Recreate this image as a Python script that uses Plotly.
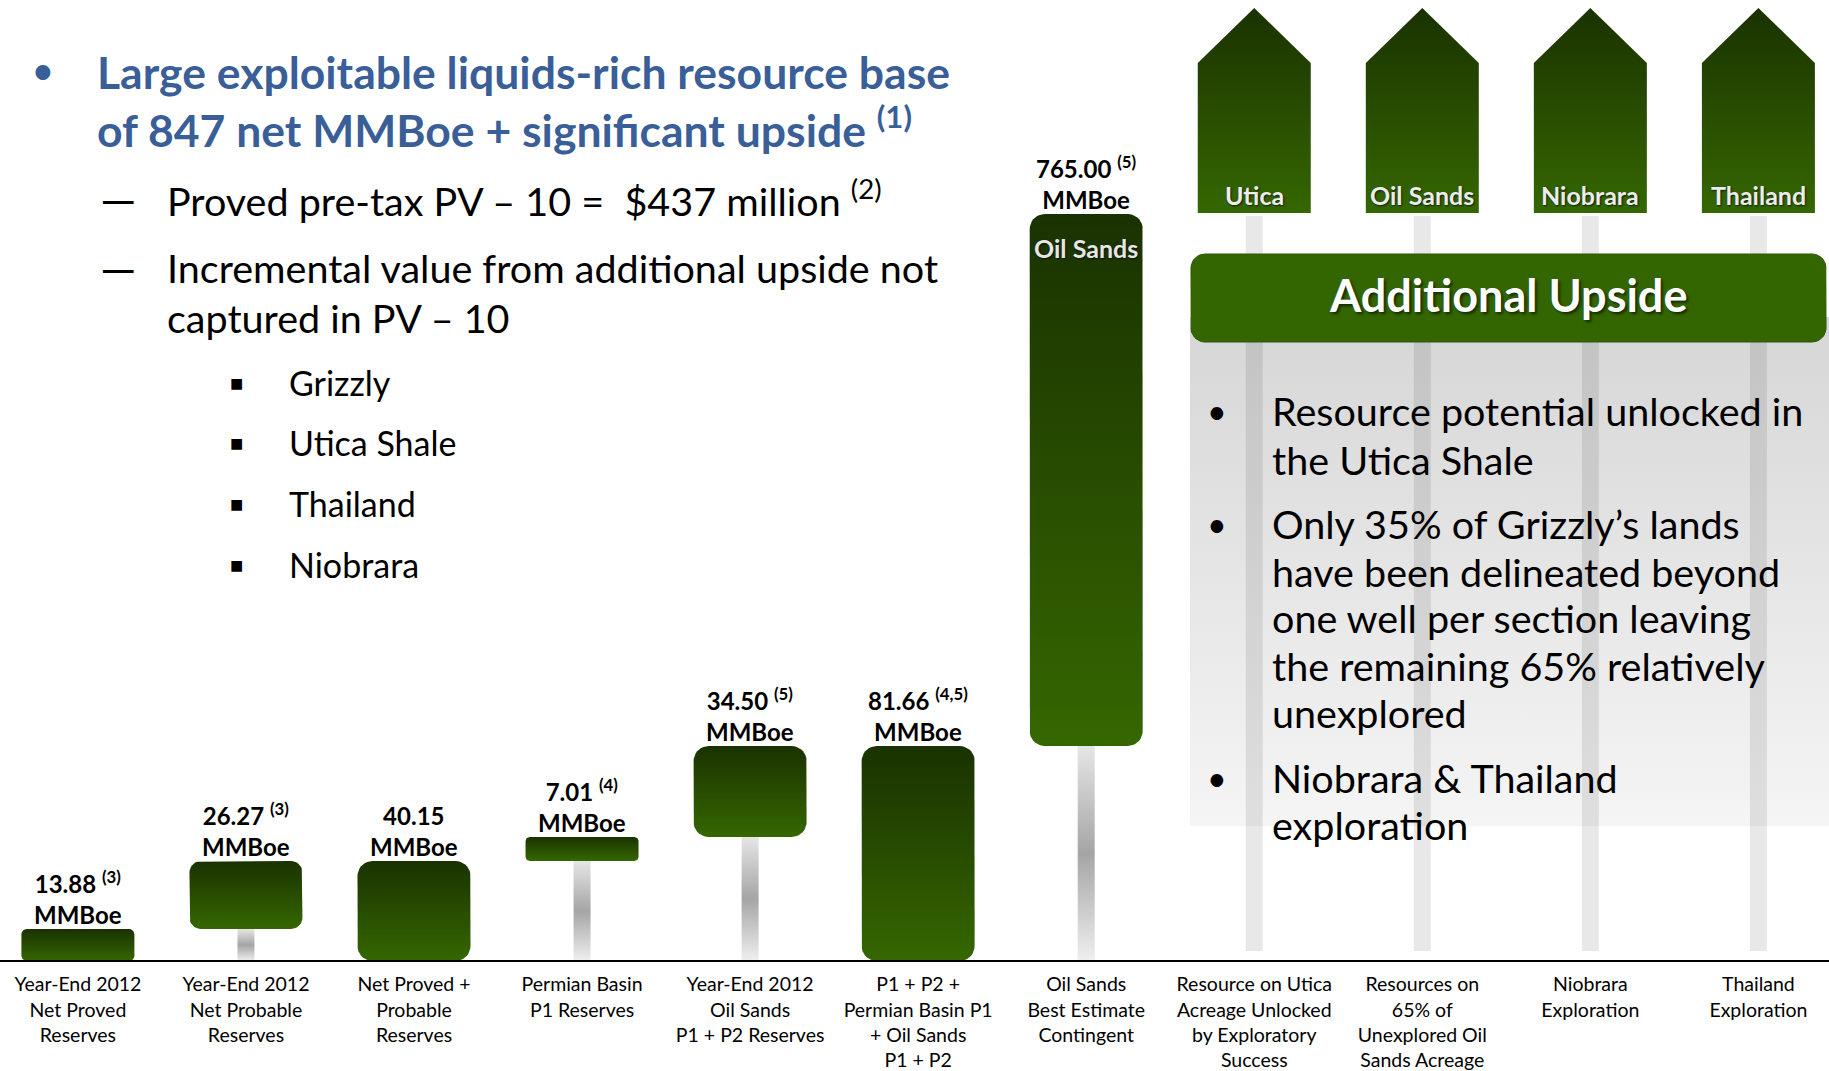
import numpy as np
import plotly.graph_objects as go

W, H = 1829, 1071

# ---------------- data ----------------
categories = [
    ["Year-End 2012", "Net Proved", "Reserves"],
    ["Year-End 2012", "Net Probable", "Reserves"],
    ["Net Proved +", "Probable", "Reserves"],
    ["Permian Basin", "P1 Reserves"],
    ["Year-End 2012", "Oil Sands", "P1 + P2 Reserves"],
    ["P1 + P2 +", "Permian Basin P1", "+ Oil Sands", "P1 + P2"],
    ["Oil Sands", "Best Estimate", "Contingent"],
    ["Resource on Utica", "Acreage Unlocked", "by Exploratory", "Success"],
    ["Resources on", "65% of", "Unexplored Oil", "Sands Acreage"],
    ["Niobrara", "Exploration"],
    ["Thailand", "Exploration"],
]
values = [13.88, 26.27, 40.15, 7.01, 34.50, 81.66, 765.00]
value_notes = ["(3)", "(3)", "", "(4)", "(5)", "(4,5)", "(5)"]
measures = ["relative", "relative", "total", "relative", "relative", "total", "relative"]
# drawn heights of the floating bars (the original graphic is not drawn to scale)
display_heights = [32, 68, 0, 24, 91, 0, 532]
bar_inner_labels = ["", "", "", "", "", "", "Oil Sands"]
upside_labels = ["Utica", "Oil Sands", "Niobrara", "Thailand"]

title_lines = ["Large exploitable liquids-rich resource base",
               "of 847 net MMBoe + significant upside <sup>(1)</sup>"]
dash_items = [["Proved pre-tax PV \u2013 10 =\u00a0 $437 million <sup>(2)</sup>"],
              ["Incremental value from additional upside not", "captured in PV \u2013 10"]]
sub_items = ["Grizzly", "Utica Shale", "Thailand", "Niobrara"]
panel_title = "Additional Upside"
panel_bullets = [["Resource potential unlocked in", "the Utica Shale"],
                 ["Only 35% of Grizzly\u2019s lands", "have been delineated beyond",
                  "one well per section leaving", "the remaining 65% relatively", "unexplored"],
                 ["Niobrara & Thailand", "exploration"]]

# ---------------- geometry / style ----------------
X0, STEP, BASE = 77.9, 168.05, 961.0
FONT = "Lato"
DARK, LIGHT = "#1a3200", "#356700"
GREEN_SCALE = [[0, LIGHT], [1, DARK]]
STEM_SCALE = [[0, "#efefef"], [0.5, "#a5a5a5"], [1, "#e6e6e6"]]

def xd(px):  # pixel column -> x data
    return (px - X0) / STEP

def yd(py):  # pixel row -> y data
    return BASE - py

def P(px, py):
    return px / W, 1 - py / H

def rounded_rect(xc, half_w_px, y0, y1, r_px, n=10):
    hw = half_w_px / STEP
    rx = r_px / STEP
    ry = r_px
    x0, x1 = xc - hw, xc + hw
    corners = [(x1 - rx, y0 + ry, -90, 0), (x1 - rx, y1 - ry, 0, 90),
               (x0 + rx, y1 - ry, 90, 180), (x0 + rx, y0 + ry, 180, 270)]
    xs, ys = [], []
    for cx, cy, a0, a1 in corners:
        t = np.radians(np.linspace(a0, a1, n))
        xs += list(cx + rx * np.cos(t))
        ys += list(cy + ry * np.sin(t))
    xs.append(xs[0]); ys.append(ys[0])
    return xs, ys

def grad_poly(xs, ys, scale, y0, y1):
    return go.Scatter(x=xs, y=ys, mode="lines", line=dict(width=0, color="rgba(0,0,0,0)"),
                      fill="toself",
                      fillgradient=dict(type="vertical", colorscale=scale, start=y0, stop=y1),
                      hoverinfo="skip", showlegend=False)

fig = go.Figure()

# grey panel behind the "Additional Upside" text
px0, px1, pyt, pyb = 1190, W, 317, 826
fig.add_trace(grad_poly([xd(px0), xd(px1), xd(px1), xd(px0), xd(px0)],
                        [yd(pyb), yd(pyb), yd(pyt), yd(pyt), yd(pyb)],
                        [[0, "#f5f5f5"], [1, "#d6d6d6"]], yd(pyb), yd(pyt)))

# stems below upside arrows
n_bars = len(values)
sx, sy = [], []
for k in range(len(upside_labels)):
    i = n_bars + k
    sx += [i, i, None]
    sy += [yd(951), yd(216), None]
fig.add_trace(go.Scatter(x=sx, y=sy, mode="lines", line=dict(width=17, color="rgba(0,0,0,0.09)"),
                         hoverinfo="skip", showlegend=False))

# "Additional Upside" box
bx, by = rounded_rect(xd((1191 + 1826) / 2), (1826 - 1191) / 2, yd(342), yd(254), 14)
fig.add_trace(go.Scatter(x=bx, y=by, mode="lines", line=dict(width=1, color="#2c5800"),
                         fill="toself", fillcolor="#336600", hoverinfo="skip", showlegend=False))

# waterfall bases / tops
bases, tops = [], []
run = 0
for m, h in zip(measures, display_heights):
    if m == "total":
        bases.append(0); tops.append(run)
    else:
        bases.append(run); run += h; tops.append(run)

HALF_W = 56.5
# grey connector stems under floating bars
for i, b in enumerate(bases):
    if b > 0:
        xs = [i - 8.5 / STEP, i + 8.5 / STEP, i + 8.5 / STEP, i - 8.5 / STEP, i - 8.5 / STEP]
        ys = [0, 0, b, b, 0]
        fig.add_trace(grad_poly(xs, ys, STEM_SCALE, 0, b))

# bars
for i, (b, t) in enumerate(zip(bases, tops)):
    h = t - b
    r = min(15, 0.17 * h)
    xs, ys = rounded_rect(i, HALF_W, b, t, r)
    fig.add_trace(grad_poly(xs, ys, GREEN_SCALE, b, t))

# upside arrows
for k, lab in enumerate(upside_labels):
    i = n_bars + k
    hw = HALF_W / STEP
    xs = [i - hw, i - hw, i, i + hw, i + hw, i - hw]
    ys = [yd(213), yd(63), yd(8), yd(63), yd(213), yd(213)]
    fig.add_trace(grad_poly(xs, ys, GREEN_SCALE, yd(213), yd(8)))

ann = []
# value labels
for i, (v, note) in enumerate(zip(values, value_notes)):
    txt = f"{v:.2f}" + (f" <sup>{note}</sup>" if note else "") + "<br>MMBoe"
    ann.append(dict(x=i, y=tops[i] - 2, xref="x", yref="y", text=txt, showarrow=False,
                    yanchor="bottom", xanchor="center",
                    font=dict(family=FONT, size=24, color="black", weight="bold")))
for i, lab in enumerate(bar_inner_labels):
    if lab:
        ann.append(dict(x=i, y=tops[i] - 34, xref="x", yref="y", text=lab, showarrow=False,
                        yanchor="middle", font=dict(family=FONT, size=25, color="#e6e6e6", weight="bold",
                                                    shadow="1px 1px 2px rgba(0,0,0,0.7)")))
for k, lab in enumerate(upside_labels):
    ann.append(dict(x=n_bars + k, y=yd(195), xref="x", yref="y", text=lab, showarrow=False,
                    yanchor="middle", font=dict(family=FONT, size=25, color="#ececec", weight="bold",
                                                shadow="1px 1px 2px rgba(0,0,0,0.7)")))
# panel title
x, y = P(1508, 295)
ann.append(dict(x=x, y=y, xref="paper", yref="paper", text=panel_title, showarrow=False,
                xanchor="center", yanchor="middle",
                font=dict(family=FONT, size=45, color="white", weight="bold",
                          shadow="2px 2px 3px rgba(0,0,0,0.6)")))

def txt(px, py, s, size, color="black", bold=False, anchor="left"):
    x, y = P(px, py)
    f = dict(family=FONT, size=size, color=color)
    if bold:
        f["weight"] = "bold"
    ann.append(dict(x=x, y=y, xref="paper", yref="paper", text=s, showarrow=False,
                    xanchor=anchor, yanchor="middle", font=f))

BLUE = "#3a5f98"
txt(43, 70, "\u2022", 34, BLUE, True, "center")
for s, py in zip(title_lines, [72, 126]):
    txt(95, py, s, 44.5, BLUE, True)
dash_rows = [[198], [267, 317]]
for item, rows in zip(dash_items, dash_rows):
    txt(98, rows[0], "\u2014", 46)
    for s, py in zip(item, rows):
        txt(165, py, s, 39.5)
for s, py in zip(sub_items, [382, 442, 503, 564]):
    txt(236, py, "\u25a0", 22, anchor="center")
    txt(287, py, s, 34)
panel_rows = [[411, 459], [523, 571, 617, 665, 712], [777, 824]]
for item, rows in zip(panel_bullets, panel_rows):
    txt(1217, rows[0], "\u2022", 34, anchor="center")
    for s, py in zip(item, rows):
        txt(1270, py, s, 39.5)

fig.update_layout(
    width=W, height=H, margin=dict(l=0, r=0, t=0, b=0, autoexpand=False),
    paper_bgcolor="white", plot_bgcolor="rgba(0,0,0,0)",
    showlegend=False, annotations=ann, hovermode=False,
    xaxis=dict(range=[xd(0), xd(W)], tickvals=list(range(len(categories))),
               ticktext=["<br>".join(c) for c in categories], automargin=False,
               showgrid=False, zeroline=False, showline=True, linecolor="black", linewidth=2,
               ticks="", anchor="free", position=(H - BASE) / H, ticklabelstandoff=6,
               tickfont=dict(family=FONT, size=19.5, color="black"), fixedrange=True),
    yaxis=dict(range=[yd(H), yd(0)], visible=False, fixedrange=True, automargin=False),
)

fig.write_html("out.html", config={"displayModeBar": False},
               post_script="document.body.style.margin='0';document.body.style.overflow='hidden';")
